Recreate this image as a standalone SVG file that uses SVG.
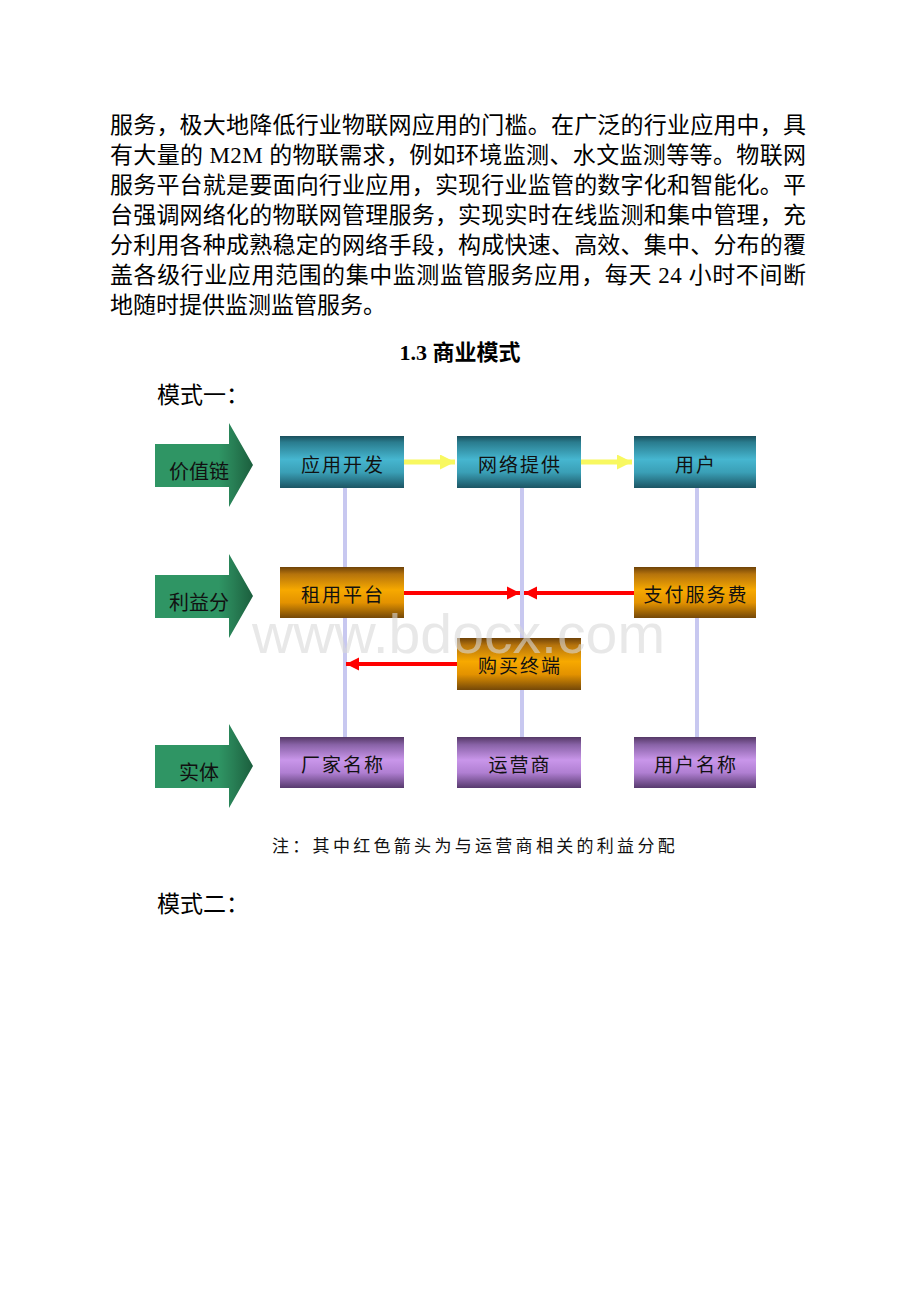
<svg xmlns="http://www.w3.org/2000/svg" width="920" height="1302" viewBox="0 0 920 1302">
<style>
.p{font-family:"Liberation Serif","Noto Sans CJK SC",serif;font-size:23px;fill:#000}
.h{font-family:"Liberation Serif","Noto Sans CJK SC",serif;font-size:22px;font-weight:bold;fill:#000}
.bt{font-family:"Noto Sans CJK SC",sans-serif;font-size:19px;letter-spacing:2px;fill:#111;text-anchor:middle}
.at{font-family:"Noto Sans CJK SC",sans-serif;font-size:20px;fill:#111;text-anchor:middle}
.note{font-family:"Noto Sans CJK SC",sans-serif;font-size:17px;letter-spacing:3.3px;fill:#111}
.vl{stroke:#c8c8f0;stroke-width:4;fill:none}
.ya{stroke:#f8f860;stroke-width:5;fill:none}
.ra{stroke:#ff0000;stroke-width:4;fill:none}
.wm{font-family:"Liberation Sans",Arial,sans-serif;font-size:56px;fill:#d8d8d8;fill-opacity:0.6}
</style>
<defs>
<linearGradient id="gTeal" x1="0" y1="0" x2="0" y2="1">
<stop offset="0" stop-color="#1b4f5c"/><stop offset="0.12" stop-color="#2a7c8e"/><stop offset="0.45" stop-color="#46b6d0"/><stop offset="0.7" stop-color="#3a9fb6"/><stop offset="1" stop-color="#1c5564"/>
</linearGradient>
<linearGradient id="gOrange" x1="0" y1="0" x2="0" y2="1">
<stop offset="0" stop-color="#6e4208"/><stop offset="0.14" stop-color="#b5730c"/><stop offset="0.45" stop-color="#f7a900"/><stop offset="0.7" stop-color="#e39200"/><stop offset="1" stop-color="#744808"/>
</linearGradient>
<linearGradient id="gPurple" x1="0" y1="0" x2="0" y2="1">
<stop offset="0" stop-color="#553866"/><stop offset="0.15" stop-color="#8862a6"/><stop offset="0.45" stop-color="#c996ea"/><stop offset="0.7" stop-color="#b07fd2"/><stop offset="1" stop-color="#573a6e"/>
</linearGradient>
<linearGradient id="gGreen" x1="0" y1="0" x2="1" y2="0">
<stop offset="0" stop-color="#2f9564"/><stop offset="0.65" stop-color="#2f9564"/><stop offset="0.8" stop-color="#287f55"/><stop offset="1" stop-color="#1b5e3d"/>
</linearGradient>
<marker id="redHead" viewBox="0 0 10 10" refX="10" refY="5" markerWidth="3.3" markerHeight="3.3" orient="auto" markerUnits="strokeWidth">
<path d="M0,0 L10,5 L0,10 z" fill="#ff0000"/>
</marker>
<marker id="yelHead" viewBox="0 0 10 10" refX="10" refY="5" markerWidth="3" markerHeight="3" orient="auto" markerUnits="strokeWidth">
<path d="M0,0 L10,5 L0,10 z" fill="#f8f860"/>
</marker>
<polygon id="garrow" points="155,444 229,444 229,423 253,465 229,507 229,487 155,487"/>
</defs>
<rect width="920" height="1302" fill="#fff"/>

<g id="body-text">
<text class="p" x="110" y="133" textLength="696" lengthAdjust="spacing">服务，极大地降低行业物联网应用的门槛。在广泛的行业应用中，具</text>
<text class="p" x="110" y="163" textLength="696" lengthAdjust="spacing">有大量的 M2M 的物联需求，例如环境监测、水文监测等等。物联网</text>
<text class="p" x="110" y="193" textLength="696" lengthAdjust="spacing">服务平台就是要面向行业应用，实现行业监管的数字化和智能化。平</text>
<text class="p" x="110" y="223" textLength="696" lengthAdjust="spacing">台强调网络化的物联网管理服务，实现实时在线监测和集中管理，充</text>
<text class="p" x="110" y="253" textLength="696" lengthAdjust="spacing">分利用各种成熟稳定的网络手段，构成快速、高效、集中、分布的覆</text>
<text class="p" x="110" y="283" textLength="696" lengthAdjust="spacing">盖各级行业应用范围的集中监测监管服务应用，每天 24 小时不间断</text>
<text class="p" x="110" y="313">地随时提供监测监管服务。</text>
<text class="h" x="460" y="360" text-anchor="middle">1.3 商业模式</text>
<text class="p" x="157" y="403">模式一：</text>
</g>

<g id="connectors">
<line class="vl" x1="345" y1="488" x2="345" y2="737"/>
<line class="vl" x1="522" y1="488" x2="522" y2="737"/>
<line class="vl" x1="697" y1="488" x2="697" y2="737"/>
<line class="ya" x1="404" y1="462" x2="455" y2="462" marker-end="url(#yelHead)"/>
<line class="ya" x1="581" y1="462" x2="632" y2="462" marker-end="url(#yelHead)"/>
<line class="ra" x1="404" y1="593" x2="520" y2="593" marker-end="url(#redHead)"/>
<line class="ra" x1="634" y1="593" x2="524" y2="593" marker-end="url(#redHead)"/>
<line class="ra" x1="457" y1="664" x2="346" y2="664" marker-end="url(#redHead)"/>
</g>

<g id="arrow-value-chain">
<use href="#garrow" fill="url(#gGreen)"/>
<text class="at" x="199" y="479">价值链</text>
</g>
<g id="arrow-profit">
<use href="#garrow" fill="url(#gGreen)" transform="translate(0,131)"/>
<text class="at" x="199" y="610">利益分</text>
</g>
<g id="arrow-entity">
<use href="#garrow" fill="url(#gGreen)" transform="translate(0,301)"/>
<text class="at" x="199" y="780">实体</text>
</g>

<g id="node-app-dev">
<rect x="280" y="436" width="124" height="52" fill="url(#gTeal)"/>
<text class="bt" x="343" y="472">应用开发</text>
</g>
<g id="node-network">
<rect x="457" y="436" width="124" height="52" fill="url(#gTeal)"/>
<text class="bt" x="520" y="472">网络提供</text>
</g>
<g id="node-user">
<rect x="634" y="436" width="122" height="52" fill="url(#gTeal)"/>
<text class="bt" x="696" y="472">用户</text>
</g>

<g id="node-rent">
<rect x="280" y="567" width="124" height="51" fill="url(#gOrange)"/>
<text class="bt" x="343" y="602">租用平台</text>
</g>
<g id="node-pay">
<rect x="634" y="567" width="122" height="51" fill="url(#gOrange)"/>
<text class="bt" x="696" y="602">支付服务费</text>
</g>
<g id="node-buy">
<rect x="457" y="638" width="124" height="52" fill="url(#gOrange)"/>
<text class="bt" x="520" y="673">购买终端</text>
</g>

<g id="node-vendor">
<rect x="280" y="737" width="124" height="51" fill="url(#gPurple)"/>
<text class="bt" x="343" y="772">厂家名称</text>
</g>
<g id="node-operator">
<rect x="457" y="737" width="124" height="51" fill="url(#gPurple)"/>
<text class="bt" x="520" y="772">运营商</text>
</g>
<g id="node-username">
<rect x="634" y="737" width="122" height="51" fill="url(#gPurple)"/>
<text class="bt" x="696" y="772">用户名称</text>
</g>

<text class="wm" x="252" y="653" textLength="413" lengthAdjust="spacingAndGlyphs">www.bdocx.com</text>

<g id="footer">
<text class="note" x="272" y="852">注：其中红色箭头为与运营商相关的利益分配</text>
<text class="p" x="157" y="912">模式二：</text>
</g>
</svg>
